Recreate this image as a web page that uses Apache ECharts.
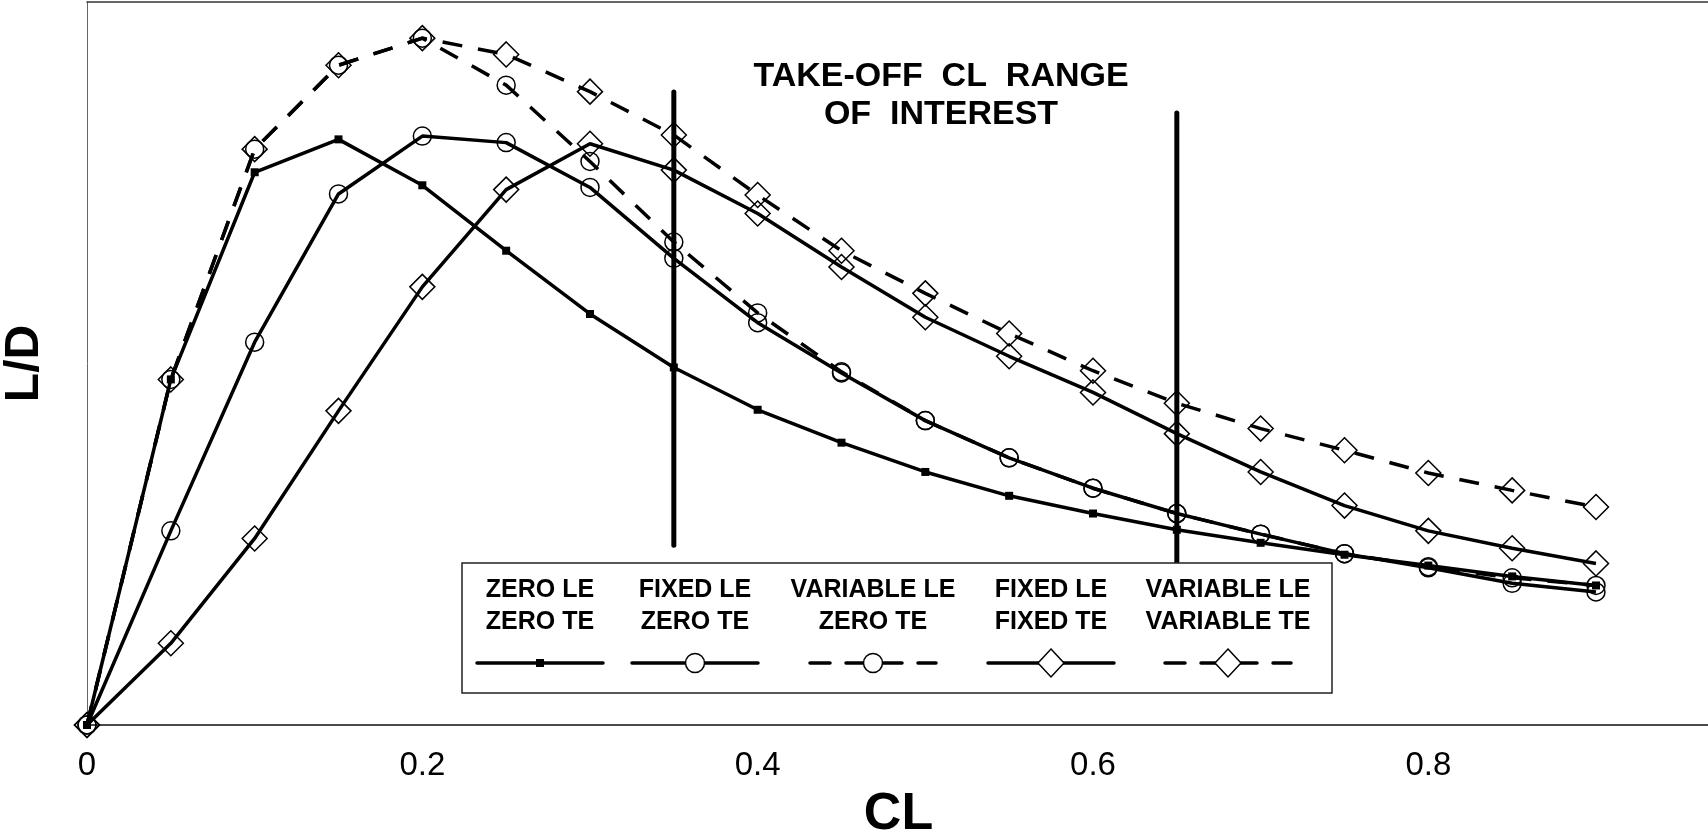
<!DOCTYPE html>
<html>
<head>
<meta charset="utf-8">
<script src="https://cdn.jsdelivr.net/npm/echarts@6/dist/echarts.min.js"></script>
<style>
  html, body { margin: 0; padding: 0; background: #fff; }
  #main { width: 1708px; height: 836px; }
</style>
</head>
<body>
<div id="main"></div>
<script>
// CL values along x
const clValues = [0, 0.05, 0.1, 0.15, 0.2, 0.25, 0.3, 0.35, 0.4, 0.45, 0.5, 0.55, 0.6, 0.65, 0.7, 0.75, 0.8, 0.85, 0.9];

// L/D (no scale printed, arbitrary units)
const zeroLeZeroTe = [0, 9.56, 15.29, 16.2, 14.93, 13.12, 11.37, 9.89, 8.72, 7.81, 7.0, 6.34, 5.85, 5.4, 5.04, 4.71, 4.41, 4.11, 3.86];
const fixedLeZeroTe = [0, 5.37, 10.59, 14.69, 16.29, 16.11, 14.87, 12.91, 11.13, 9.74, 8.42, 7.39, 6.55, 5.85, 5.28, 4.74, 4.35, 3.92, 3.68];
const variableLeZeroTe = [0, 9.56, 15.93, 18.25, 19.0, 17.7, 15.59, 13.36, 11.4, 9.77, 8.42, 7.39, 6.55, 5.85, 5.28, 4.74, 4.38, 4.07, 3.86];
const fixedLeFixedTe = [0, 2.26, 5.16, 8.69, 12.12, 14.81, 16.08, 15.35, 14.15, 12.67, 11.28, 10.2, 9.2, 8.06, 7.0, 6.07, 5.37, 4.89, 4.47];
const variableLeVariableTe = [0, 9.56, 15.93, 18.25, 19.0, 18.55, 17.52, 16.32, 14.66, 13.12, 11.94, 10.83, 9.8, 8.9, 8.2, 7.6, 6.97, 6.49, 6.03];

// take-off CL range markers
const rangeCl = [0.35, 0.65];
const rangeTop = [17.51, 16.93];
const rangeBottom = [4.97, 4.47];

const legendNames = ["ZERO LE\nZERO TE", "FIXED LE\nZERO TE", "VARIABLE LE\nZERO TE", "FIXED LE\nFIXED TE", "VARIABLE LE\nVARIABLE TE"];
const titleText = "TAKE-OFF  CL  RANGE\nOF  INTEREST";
const xTickLabels = ["0", "0.2", "0.4", "0.6", "0.8"];

const FONT = '"Liberation Sans", Arial, sans-serif';
const DASH = [20, 16];

const myChart = echarts.init(document.getElementById("main"));

function pairs(ys) {
  return clValues.map((x, i) => [x, ys[i]]);
}

const openMarker = { color: "rgba(0,0,0,0)", borderColor: "#000", borderWidth: 1.5 };

const series = [
  {
    name: "zero",
    type: "line",
    data: pairs(zeroLeZeroTe),
    symbol: "rect",
    symbolSize: 8,
    itemStyle: { color: "#000" },
    lineStyle: { color: "#000", width: 3.5 },
  },
  {
    name: "fixedZero",
    type: "line",
    data: pairs(fixedLeZeroTe),
    symbol: "circle",
    symbolSize: 18,
    itemStyle: openMarker,
    lineStyle: { color: "#000", width: 3.5 },
  },
  {
    name: "variableZero",
    type: "line",
    data: pairs(variableLeZeroTe),
    symbol: "circle",
    symbolSize: 18,
    itemStyle: openMarker,
    lineStyle: { color: "#000", width: 3.5, type: DASH },
  },
  {
    name: "fixedFixed",
    type: "line",
    data: pairs(fixedLeFixedTe),
    symbol: "diamond",
    symbolSize: 25,
    itemStyle: openMarker,
    lineStyle: { color: "#000", width: 3.5 },
  },
  {
    name: "variableVariable",
    type: "line",
    data: pairs(variableLeVariableTe),
    symbol: "diamond",
    symbolSize: 25,
    itemStyle: openMarker,
    lineStyle: { color: "#000", width: 3.5, type: DASH },
  },
];

// 2 vertical bars for the CL range
rangeCl.forEach((cl, i) => {
  series.push({
    type: "line",
    data: [[cl, rangeBottom[i]], [cl, rangeTop[i]]],
    symbol: "none",
    lineStyle: { color: "#000", width: 5, cap: "round" },
    z: 3,
  });
});

// legend drawn by hand: text on top, line sample underneath
const legendBox = { x: 462, y: 563, w: 870, h: 130 };
const legendCx = [540, 695, 873, 1051, 1228];
const sampleHalf = 63;
const sampleY = 663;
const legendGraphics = [
  {
    type: "rect",
    z: 100,
    shape: { x: legendBox.x, y: legendBox.y, width: legendBox.w, height: legendBox.h },
    style: { fill: "#fff", stroke: "#222", lineWidth: 1.5 },
  },
];
legendNames.forEach((name, i) => {
  const cx = legendCx[i];
  const dashed = i === 2 || i === 4;
  legendGraphics.push({
    type: "text",
    z: 101,
    style: {
      text: name,
      x: cx,
      y: 606,
      align: "center",
      verticalAlign: "middle",
      fontFamily: FONT,
      fontWeight: "bold",
      fontSize: 25,
      lineHeight: 32,
      fill: "#000",
    },
  });
  legendGraphics.push({
    type: "line",
    z: 101,
    shape: { x1: cx - sampleHalf, y1: sampleY, x2: cx + sampleHalf, y2: sampleY },
    style: { stroke: "#000", lineWidth: 3.5, lineDash: dashed ? DASH : null, lineCap: "round" },
  });
  if (i === 0) {
    legendGraphics.push({
      type: "rect",
      z: 102,
      shape: { x: cx - 4, y: sampleY - 4, width: 8, height: 8 },
      style: { fill: "#000" },
    });
  } else if (i < 3) {
    legendGraphics.push({
      type: "circle",
      z: 102,
      shape: { cx: cx, cy: sampleY, r: 9.5 },
      style: { fill: "#fff", stroke: "#000", lineWidth: 1.5 },
    });
  } else {
    legendGraphics.push({
      type: "polygon",
      z: 102,
      shape: { points: [[cx, sampleY - 14], [cx + 13, sampleY], [cx, sampleY + 14], [cx - 13, sampleY]] },
      style: { fill: "#fff", stroke: "#000", lineWidth: 1.5 },
    });
  }
});

const option = {
  backgroundColor: "#fff",
  animation: false,
  grid: {
    left: 87,
    right: -2,
    top: 2,
    bottom: 111,
    outerBoundsMode: "none",
    containLabel: false,
  },
  xAxis: [
    {
      type: "value",
      min: 0,
      max: 0.968,
      interval: 0.2,
      name: "CL",
      nameLocation: "middle",
      nameGap: 64,
      nameTextStyle: { fontFamily: FONT, fontWeight: "bold", fontSize: 52, color: "#000" },
      axisLine: { show: true, onZero: false, lineStyle: { color: "#111", width: 1.5 } },
      axisTick: { show: false },
      splitLine: { show: false },
      axisLabel: {
        showMaxLabel: false,
        margin: 24,
        fontFamily: FONT,
        fontSize: 33,
        color: "#000",
        formatter: (v) => xTickLabels[Math.round(v / 0.2)] || "",
      },
    },
    {
      // top edge of the frame
      type: "value",
      position: "top",
      min: 0,
      max: 0.968,
      axisLine: { show: true, onZero: false, lineStyle: { color: "#333", width: 1.5 } },
      axisTick: { show: false },
      axisLabel: { show: false },
      splitLine: { show: false },
    },
  ],
  yAxis: {
    type: "value",
    min: 0,
    max: 20,
    name: "L/D",
    nameLocation: "middle",
    nameGap: 38,
    nameRotate: 90,
    nameTextStyle: { fontFamily: FONT, fontWeight: "bold", fontSize: 48, color: "#000" },
    axisLine: { show: true, onZero: false, lineStyle: { color: "#666", width: 1 } },
    axisTick: { show: false },
    axisLabel: { show: false },
    splitLine: { show: false },
  },
  graphic: [
    {
      type: "text",
      z: 100,
      style: {
        text: titleText,
        x: 941,
        y: 96,
        align: "center",
        verticalAlign: "middle",
        fontFamily: FONT,
        fontWeight: "bold",
        fontSize: 34,
        lineHeight: 38,
        fill: "#000",
      },
    },
  ].concat(legendGraphics),
  series: series,
};

myChart.setOption(option);

window.addEventListener("resize", function () {
  myChart.resize();
});
</script>
</body>
</html>
